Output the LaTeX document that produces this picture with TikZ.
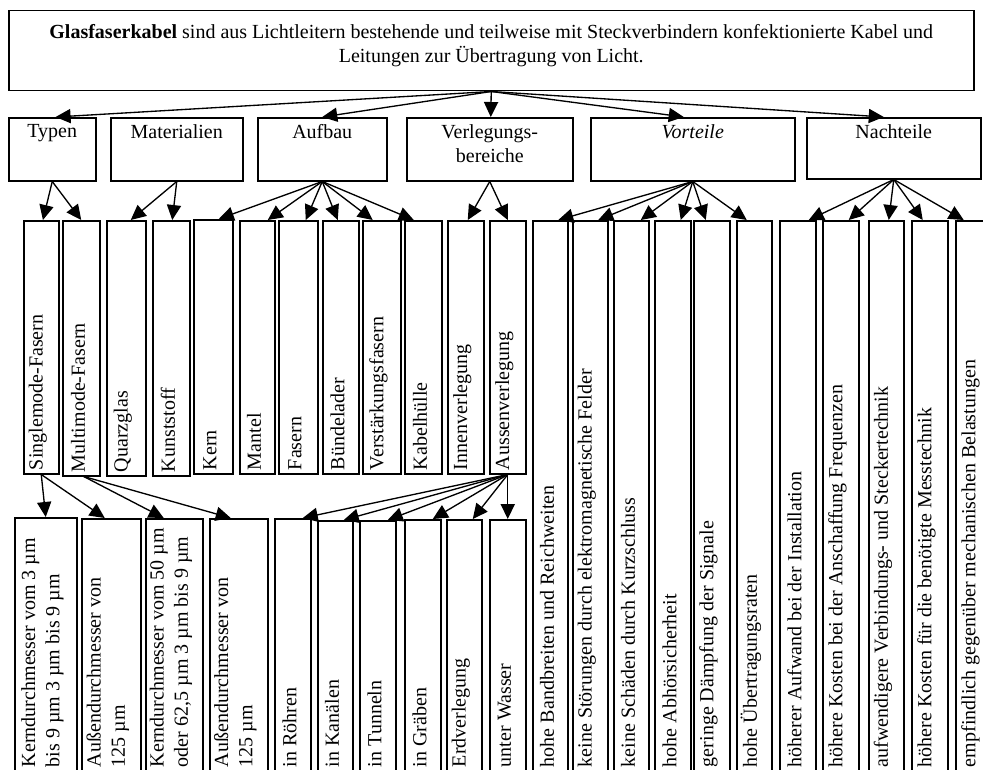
\documentclass[tikz,border=0pt]{standalone}
\usepackage{fontspec}
\setmainfont{Liberation Serif}
\usetikzlibrary{arrows.meta}

% box with rotated text from x1 to x2, ytop to ybottom (pixel units)
\newcommand{\leaf}[6]{%
  \node[leafbox, minimum width={(#3-#2)*0.6pt}, minimum height={(#5-#4)*0.6pt}] (#1) at (#2,#4) {};
  \node[leaftext] (#1-t) at ([xshift=-2pt]#1.south) {#6};%
}
% box with its title at the top
\newcommand{\group}[6]{%
  \node[leafbox, minimum width={(#3-#2)*0.6pt}, minimum height={(#5-#4)*0.6pt}] (#1) at (#2,#4) {};
  \node[grouptext] (#1-t) at ([yshift=-4.2pt]#1.north) {#6};%
}

\begin{document}
\begin{tikzpicture}[x=0.6pt, y=-0.6pt, font=\fontsize{12}{14.5}\selectfont,
    leafbox/.style={draw, line width=0.9pt, inner sep=0pt, anchor=north west},
    leaftext/.style={rotate=90, anchor=west, inner xsep=2.5pt, inner ysep=0pt, align=left},
    grouptext/.style={anchor=north, inner sep=0pt, align=center},
    arr/.style={-{Triangle[length=9pt, width=8.5pt]}, line width=0.8pt}]
  \useasboundingbox (0,0) rectangle (983,769);
  \clip (0,0) rectangle (983,769);

  % definition
  \node[leafbox, minimum width={965*0.6pt}, minimum height={80*0.6pt}] (kabel) at (8,10) {};
  \node[grouptext] (kabel-t) at ([yshift=-8.4pt]kabel.north)
    {\textbf{Glasfaserkabel} sind aus Lichtleitern bestehende und teilweise mit Steckverbindern konfektionierte Kabel und\\
     Leitungen zur Übertragung von Licht.};

  % categories
  \group{typ}{8}{95}{117}{180}{Typen}
  \group{mat}{110}{242}{117}{180}{Materialien}
  \group{auf}{257}{386}{117}{180}{Aufbau}
  \group{ver}{406}{572}{117}{180}{Verlegungs-\\bereiche}
  \group{vor}{590}{794}{117}{180}{\textit{Vorteile}}
  \group{nach}{806}{980}{117}{178}{Nachteile}

  % second row
  \leaf{t1}{23}{58}{220}{473}{Singlemode-Fasern}
  \leaf{t2}{62}{99}{220}{475}{Multimode-Fasern}
  \leaf{m1}{106}{145}{220}{475}{Quarzglas}
  \leaf{m2}{152}{189}{220}{475}{Kunststoff}
  \leaf{a1}{193}{232}{219}{473}{Kern}
  \leaf{a2}{239}{274}{220}{473}{Mantel}
  \leaf{a3}{278}{317}{220}{473}{Fasern}
  \leaf{a4}{322}{358}{220}{473}{Bündelader}
  \leaf{a5}{362}{400}{220}{473}{Verstärkungsfasern}
  \leaf{a6}{404}{441}{220}{473}{Kabelhülle}
  \leaf{v1}{447}{483}{220}{473}{Innenverlegung}
  \leaf{v2}{489}{525}{220}{473}{Aussenverlegung}
  \leaf{p1}{532}{567}{220}{770}{hohe Bandbreiten und Reichweiten}
  \leaf{p2}{572}{607}{220}{770}{keine Störungen durch elektromagnetische Felder}
  \leaf{p3}{613}{648}{220}{770}{keine Schäden durch Kurzschluss}
  \leaf{p4}{654}{690}{220}{770}{hohe Abhörsicherheit}
  \leaf{p5}{693}{729}{220}{770}{geringe Dämpfung der Signale}
  \leaf{p6}{736}{771}{220}{770}{hohe Übertragungsraten}
  \leaf{n1}{779}{815}{220}{770}{höherer Aufwand bei der Installation}
  \leaf{n2}{822}{858}{220}{770}{höhere Kosten bei der Anschaffung Frequenzen}
  \leaf{n3}{868}{903}{220}{770}{aufwendigere Verbindungs- und Steckertechnik}
  \leaf{n4}{911}{947}{220}{770}{höhere Kosten für die benötigte Messtechnik}
  \leaf{n5}{955}{991}{220}{770}{empfindlich gegenüber mechanischen Belastungen}

  % third row
  \leaf{s1}{14}{76}{517}{770}{Kerndurchmesser vom 3 µm\\bis 9 µm 3 µm bis 9 µm}
  \leaf{s2}{81}{140}{518}{770}{Außendurchmesser von\\125 µm}
  \leaf{s3}{145}{202}{518}{770}{Kerndurchmesser vom 50 µm\\oder 62,5 µm 3 µm bis 9 µm}
  \leaf{s4}{209}{267}{518}{770}{Außendurchmesser von\\125 µm}
  \leaf{w1}{274}{310}{518}{770}{in Röhren}
  \leaf{w2}{317}{352}{520}{770}{in Kanälen}
  \leaf{w3}{359}{395}{520}{770}{in Tunneln}
  \leaf{w4}{404}{440}{519}{770}{in Gräben}
  \leaf{w5}{446}{481}{519}{770}{Erdverlegung}
  \leaf{w6}{489}{525}{519}{770}{unter Wasser}

  % arrows
  \draw[arr] (kabel.south) -- ([xshift=2pt]typ.north);
  \draw[arr] (kabel.south) -- (auf.north);
  \draw[arr] (kabel.south) -- ([xshift=0.6pt]ver.north);
  \draw[arr] (kabel.south) -- ([xshift=-5.4pt]vor.north);
  \draw[arr] (kabel.south) -- ([xshift=-6pt]nach.north);

  \draw[arr] (typ.south) -- ([xshift=1pt]t1.north);
  \draw[arr] (typ.south) -- (t2.north);
  \draw[arr] (mat.south) -- ([xshift=2.7pt]m1.north);
  \draw[arr] (mat.south) -- ([xshift=0.6pt]m2.north);
  \draw[arr] (auf.south) -- ([xshift=3.3pt]a1.north);
  \draw[arr] (auf.south) -- ([xshift=6.3pt]a2.north);
  \draw[arr] (auf.south) -- ([xshift=4.5pt]a3.north);
  \draw[arr] (auf.south) -- ([xshift=-1.8pt]a4.north);
  \draw[arr] (auf.south) -- ([xshift=-5.4pt]a5.north);
  \draw[arr] (auf.south) -- ([xshift=-5.7pt]a6.north);
  \draw[arr] (ver.south) -- ([xshift=1.2pt]v1.north);
  \draw[arr] (ver.south) -- (v2.north);
  \draw[arr] (vor.south) -- ([xshift=4.8pt]p1.north);
  \draw[arr] (vor.south) -- ([xshift=4.8pt]p2.north);
  \draw[arr] (vor.south) -- ([xshift=5.7pt]p3.north);
  \draw[arr] (vor.south) -- ([xshift=4.8pt]p4.north);
  \draw[arr] (vor.south) -- ([xshift=-3.6pt]p5.north);
  \draw[arr] (vor.south) -- ([xshift=-4.5pt]p6.north);
  \draw[arr] (nach.south) -- ([xshift=6.6pt]n1.north);
  \draw[arr] (nach.south) -- ([xshift=4.8pt]n2.north);
  \draw[arr] (nach.south) -- ([xshift=1.5pt]n3.north);
  \draw[arr] (nach.south) -- ([xshift=-4.2pt]n4.north);
  \draw[arr] (nach.south) -- ([xshift=-6pt]n5.north);

  \draw[arr] (t1.south) -- (s1.north);
  \draw[arr] (t1.south) -- ([xshift=-3.9pt]s2.north);
  \draw[arr] ([xshift=1.5pt]t2.south) -- ([xshift=-6.3pt]s3.north);
  \draw[arr] ([xshift=1.5pt]t2.south) -- ([xshift=-4.8pt]s4.north);
  \draw[arr] (v2.south) -- ([xshift=6pt]w1.north);
  \draw[arr] (v2.south) -- ([xshift=5.1pt]w2.north);
  \draw[arr] (v2.south) -- ([xshift=6pt]w3.north);
  \draw[arr] (v2.south) -- ([xshift=6pt]w4.north);
  \draw[arr] (v2.south) -- ([xshift=5.1pt]w5.north);
  \draw[arr] (v2.south) -- (w6.north);
\end{tikzpicture}
\end{document}
